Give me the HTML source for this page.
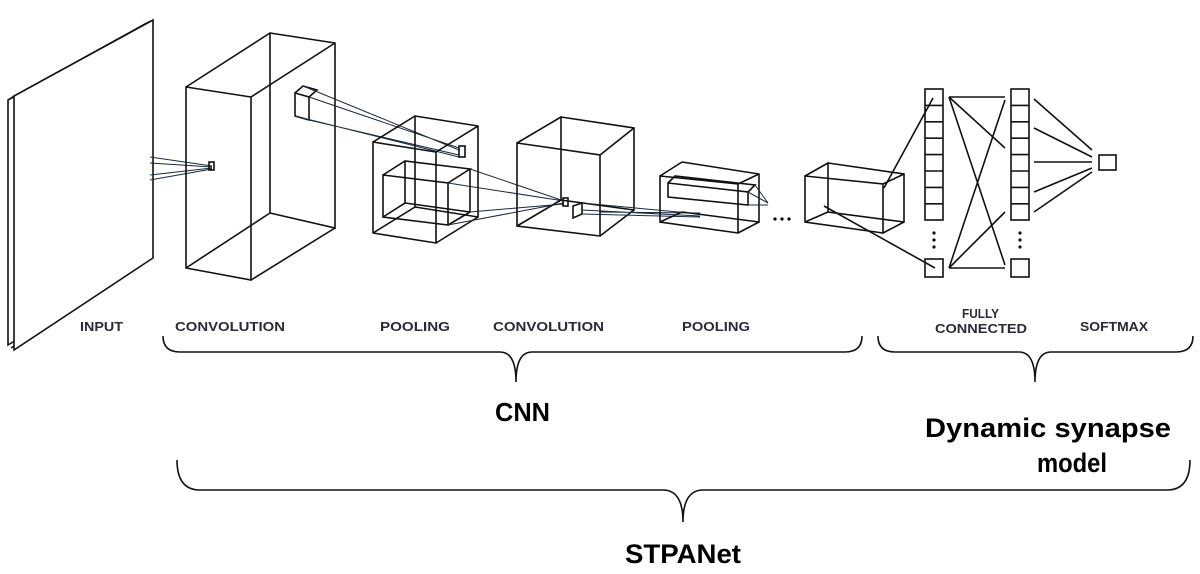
<!DOCTYPE html>
<html><head><meta charset="utf-8"><style>
html,body{margin:0;padding:0;background:#fff;}
svg{display:block;}
.l{stroke:#111;stroke-width:1.6;fill:none;}
.t{stroke:#1a2a40;stroke-width:1;fill:none;}
.s{font-family:"Liberation Sans",sans-serif;font-weight:bold;font-size:13px;fill:#2a2a38;}
.b{font-family:"Liberation Sans Narrow","Liberation Sans",sans-serif;font-weight:bold;fill:#000;}
</style></head><body>
<svg width="1200" height="574" viewBox="0 0 1200 574">
<!-- input plane -->
<g class="l" stroke-width="1.3">
<path d="M8 100 L145 24 L145 262 L8 345 Z"/>
<path d="M11 98 L149 22 L149 260 L11 348"/>
<path d="M14 96 L153 20 L153 258 L14 350 Z" fill="#fff"/>
</g>
<path class="t" d="M150 157 L212 166 M150 163 L212 167 M150 175 L212 168 M150 180 L212 169"/>
<rect x="209" y="162" width="5" height="8" class="l" stroke-width="1.2"/>
<!-- conv1 -->
<g class="l">
<path d="M186 87 L251 97 L251 280 L186 268 Z"/>
<path d="M270 33 L335 43 L335 228 L270 213 Z"/>
<path d="M186 87 L270 33 M251 97 L335 43 M251 280 L335 228 M186 268 L270 213"/>
</g>
<g class="l" stroke-width="1.3">
<path d="M295 93 L309 97 L309 120 L295 116 Z"/>
<path d="M295 93 L303 86 L317 90 L309 97"/>
</g>
<path class="t" d="M309 97 L459 148 M303 86 L459 150 M309 120 L459 155 M295 116 L459 157"/>
<!-- pool1 -->
<g class="l">
<path d="M373 142 L436 152 L436 243 L373 233 Z"/>
<path d="M415 116 L478 126 L478 217 L415 207 Z"/>
<path d="M373 142 L415 116 M436 152 L478 126 M436 243 L478 217 M373 233 L415 207"/>
<rect x="459" y="146" width="6" height="11"/>
<path d="M383 175 L448 183 L448 225 L383 217 Z"/>
<path d="M383 175 L405 161 L470 169 L448 183 M470 169 L470 212 L448 225 M405 161 L405 203 L383 217 M405 203 L470 212"/>
</g>
<path class="t" d="M448 183 L564 201 M470 169 L564 201 M448 225 L564 203 M470 212 L564 204"/>
<!-- conv2 -->
<g class="l">
<path d="M517 143 L600 155 L600 236 L517 226 Z"/>
<path d="M561 117 L634 128 L634 210 L561 200 Z"/>
<path d="M517 143 L561 117 M600 155 L634 128 M600 236 L634 210 M517 226 L561 200"/>
<rect x="563" y="198" width="5" height="8"/>
</g>
<g class="l" stroke-width="1.3">
<path d="M573 206 L582 203 L582 214 L573 218 Z"/>
</g>
<path class="t" d="M582 203 L700 214 M582 210 L700 216 M582 214 L700 217 M600 212 L700 213"/>
<!-- pool2 -->
<g class="l" stroke-width="1.4">
<path d="M660 176 L738 184 L738 233 L660 222 Z"/>
<path d="M682 162 L759 174 L759 222 L682 212"/>
<path d="M660 176 L682 162 M738 184 L759 174 M738 233 L759 222 M660 222 L682 212"/>
<path d="M668 183 L748 192 L748 205 L668 197 Z M668 183 L675 176 L755 185 L748 192"/>
</g>
<path class="t" d="M748 192 L768 203 M748 205 L768 205 M755 185 L768 203"/>
<circle cx="775" cy="219" r="1.6"/><circle cx="782" cy="219" r="1.6"/><circle cx="789" cy="219" r="1.6"/>
<!-- last box -->
<g class="l">
<path d="M805 176 L883 184 L883 233 L805 222 Z"/>
<path d="M828 163 L904 174 L904 222 L828 212 Z"/>
<path d="M805 176 L828 163 M883 184 L904 174 M883 233 L904 222 M805 222 L828 212"/>
<path d="M884 188 L933 98 M824 206 L935 268"/>
</g>
<!-- FC columns -->
<g class="l">
<rect x="925" y="89" width="18" height="131"/>
<path d="M925 105.4H943M925 121.8H943M925 138.2H943M925 154.6H943M925 171H943M925 187.4H943M925 203.8H943"/>
<rect x="925" y="259" width="18" height="18"/>
<rect x="1011" y="89" width="18" height="131"/>
<path d="M1011 105.4H1029M1011 121.8H1029M1011 138.2H1029M1011 154.6H1029M1011 171H1029M1011 187.4H1029M1011 203.8H1029"/>
<rect x="1011" y="259" width="18" height="18"/>
<rect x="1099" y="155" width="17" height="15"/>
<path d="M949 97 L1005 97 M949 97 L1005 148 M949 97 L1005 265 M949 268 L1005 268 M949 268 L1005 100 M949 268 L1005 212"/>
</g>
<g class="l" stroke-width="1">
<path d="M1034 99 L1092 150 M1034 128 L1092 157 M1034 162 L1092 162 M1034 192 L1092 168 M1034 212 L1092 172"/>
</g>
<g fill="#111"><circle cx="934" cy="233" r="1.6"/><circle cx="934" cy="240" r="1.6"/><circle cx="934" cy="247" r="1.6"/>
<circle cx="1020" cy="233" r="1.6"/><circle cx="1020" cy="240" r="1.6"/><circle cx="1020" cy="247" r="1.6"/></g>
<!-- labels -->
<text class="s" x="80" y="331" textLength="43" lengthAdjust="spacingAndGlyphs">INPUT</text>
<text class="s" x="175" y="331" textLength="110" lengthAdjust="spacingAndGlyphs">CONVOLUTION</text>
<text class="s" x="380" y="331" textLength="70" lengthAdjust="spacingAndGlyphs">POOLING</text>
<text class="s" x="493" y="331" textLength="111" lengthAdjust="spacingAndGlyphs">CONVOLUTION</text>
<text class="s" x="682" y="331" textLength="68" lengthAdjust="spacingAndGlyphs">POOLING</text>
<text class="s" x="962" y="318" font-size="12" textLength="37" lengthAdjust="spacingAndGlyphs">FULLY</text>
<text class="s" x="935" y="333" textLength="92" lengthAdjust="spacingAndGlyphs">CONNECTED</text>
<text class="s" x="1080" y="331" textLength="68" lengthAdjust="spacingAndGlyphs">SOFTMAX</text>
<!-- braces -->
<g class="l" stroke-width="2">
<path d="M163 336 Q163 352 180 352 L500 352 Q516 352 516 382 Q516 352 532 352 L845 352 Q862 352 862 336"/>
<path d="M878 336 Q878 352 895 352 L1019 352 Q1035 352 1035 382 Q1035 352 1051 352 L1176 352 Q1193 352 1193 336"/>
<path d="M177 460 Q177 490 200 490 L663 490 Q683 490 683 522 Q683 490 703 490 L1167 490 Q1190 490 1190 460"/>
</g>
<text class="b" x="495" y="421" font-size="26" textLength="55" lengthAdjust="spacingAndGlyphs">CNN</text>
<text class="b" x="925" y="437" font-size="27" textLength="246" lengthAdjust="spacingAndGlyphs">Dynamic synapse</text>
<text class="b" x="1037" y="472" font-size="27" textLength="70" lengthAdjust="spacingAndGlyphs">model</text>
<text class="b" x="625" y="563" font-size="27" textLength="116" lengthAdjust="spacingAndGlyphs">STPANet</text>
</svg>
</body></html>
